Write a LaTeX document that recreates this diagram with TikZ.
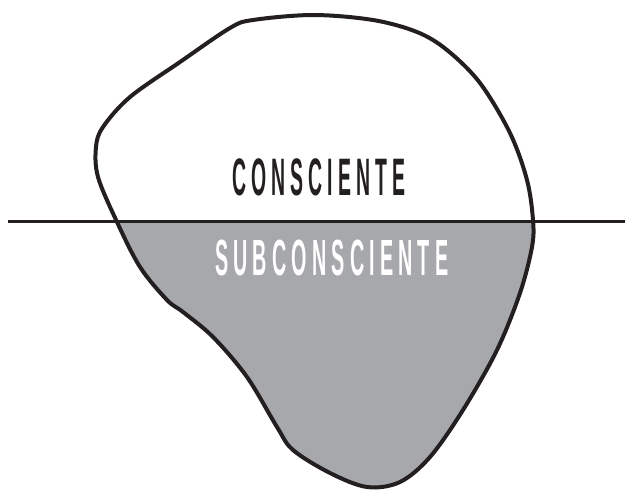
\documentclass[tikz,border=0pt]{standalone}
\usepackage{fontspec}
\setmainfont{Liberation Sans}
\newfontfamily\labelfont{Liberation Sans}
\newcommand\lsp{\kern0.26em}
\definecolor{inkdark}{HTML}{231F20}
\definecolor{subgray}{HTML}{A7A8AB}
\tikzset{
  outline/.style={draw=inkdark, line width=4pt, line join=round},
  divider/.style={draw=inkdark, line width=3pt},
  lbl/.style={inner sep=0pt, anchor=base west}
}
\begin{document}
\begin{tikzpicture}[x=1pt,y=-1pt]
\useasboundingbox (0,0) rectangle (625,490);
\def\blob{plot[smooth cycle, tension=0.55] coordinates {
 (313,15) (253,20) (230,28) (180,62) (130,97) (103,127) (96,147) (98,177)
 (117,222) (140,267) (167,300) (183,312) (213,337) (247,377) (277,427)
 (293,450) (330,473) (367,487) (400,482) (430,457) (463,410) (497,350)
 (520,293) (532,247) (533,220) (527,180) (510,133) (480,83) (447,50)
 (417,32) (373,20)}}
\begin{scope}
  \clip (0,221.5) rectangle (625,490);
  \fill[subgray] \blob;
\end{scope}
\draw[outline] \blob;
\coordinate (lineL) at (8,221.5);
\coordinate (lineR) at (625,221.5);
\draw[divider] (lineL) -- (lineR);
\node[lbl, text=inkdark] (consc) at (232,195)
  {\resizebox{173pt}{36.8pt}{\labelfont\bfseries C\lsp O\lsp N\lsp S\lsp C\lsp I\lsp E\lsp N\lsp T\lsp E}};
\node[lbl, text=white] (subconsc) at (215,275)
  {\resizebox{233pt}{35.5pt}{\labelfont\bfseries S\lsp U\lsp B\lsp C\lsp O\lsp N\lsp S\lsp C\lsp I\lsp E\lsp N\lsp T\lsp E}};
\end{tikzpicture}
\end{document}
